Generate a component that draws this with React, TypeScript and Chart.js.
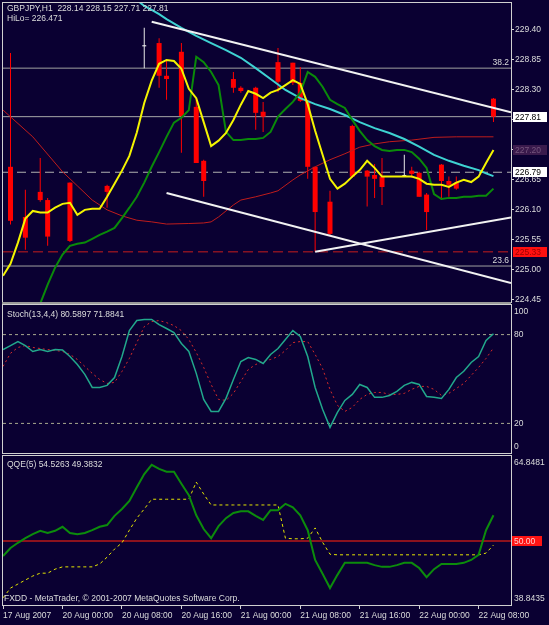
import React, { useEffect, useRef } from "react";
import { Chart, registerables } from "chart.js";

Chart.register(...registerables);

const FONT_FAMILY = "'Liberation Sans', Arial, sans-serif";
const FONT_SIZE = 8.5;
const FONT = `${FONT_SIZE}px ${FONT_FAMILY}`;
const BG = "#0a0032";
const TEXT = "#dcdcdc";
const FRAME = "#d0d0d0";
const AXIS = "#e6e6d4";

// x = hourly bar index, 0 = 20 Aug 2007 00:00
const X_MIN = -8.01;
const X_MAX = 60.36;

const timeTicks = [-8, 0, 8, 16, 24, 32, 40, 48, 56];
const timeLabels = ["17 Aug 2007", "20 Aug 00:00", "20 Aug 08:00", "20 Aug 16:00", "21 Aug 00:00", "21 Aug 08:00", "21 Aug 16:00", "22 Aug 00:00", "22 Aug 08:00"];

const priceTicks = [229.4, 228.85, 228.3, 227.75, 227.2, 226.65, 226.1, 225.55, 225.0, 224.45];
const PRICE_MIN = 224.41;
const PRICE_MAX = 229.895;

// bearish candles
const bearIdx = [-7, -5, -3, -2, 1, 6, 13, 14, 16, 18, 19, 23, 24, 26, 27, 29, 31, 32, 33, 34, 36, 39, 41, 42, 43, 47, 48, 49, 51, 52, 53, 58];
const bearOpen = [226.89, 225.97, 226.43, 226.28, 226.6, 226.54, 229.16, 228.56, 229.0, 227.99, 227.0, 228.5, 228.34, 228.34, 227.9, 228.81, 228.8, 228.43, 228.1, 226.89, 226.25, 227.64, 226.82, 226.74, 226.71, 226.82, 226.78, 226.38, 226.93, 226.63, 226.6, 228.14];
const bearHigh = [228.98, 226.47, 227.05, 226.32, 226.6, 226.56, 229.25, 228.85, 229.16, 228.12, 227.02, 228.63, 228.37, 228.36, 228.08, 229.07, 228.8, 228.72, 228.12, 226.89, 226.45, 227.66, 226.83, 226.94, 227.05, 226.89, 226.8, 226.41, 226.94, 226.71, 226.71, 228.15];
const bearLow = [225.83, 225.37, 226.25, 225.44, 225.51, 226.14, 228.34, 228.12, 227.15, 226.96, 226.34, 228.25, 228.25, 227.57, 227.53, 228.26, 228.39, 228.08, 226.67, 225.33, 225.64, 226.69, 226.16, 226.32, 226.19, 226.69, 226.34, 225.73, 226.28, 226.34, 226.47, 227.71];
const bearClose = [225.9, 225.59, 226.28, 225.61, 225.53, 226.43, 228.56, 228.5, 227.82, 226.96, 226.63, 228.34, 228.28, 227.88, 227.81, 228.45, 228.43, 228.1, 226.89, 226.06, 225.66, 226.71, 226.71, 226.67, 226.52, 226.76, 226.34, 226.06, 226.63, 226.56, 226.49, 227.81];

// visible bullish (doji-like) candles
const bullIdx = [11, 46];
const bullOpen = [229.1, 226.72];
const bullHigh = [229.44, 227.11];
const bullLow = [228.7, 226.71];
const bullClose = [229.12, 226.74];

// yellow fast line, n = -8 .. 58
const yellowStart = -8;
const yellowVals = [224.89, 225.11, 225.5, 225.94, 226.08, 226.05, 226.05, 226.14,
  226.21, 226.23, 226.01, 226.1, 226.12, 226.12, 226.34, 226.58, 226.82, 227.09,
  227.52, 228.06, 228.47, 228.78, 228.85, 228.83, 228.69, 228.32, 228.15, 227.71,
  227.27, 227.37, 227.51, 227.75, 228.03, 228.28, 228.23, 228.15, 228.25, 228.3,
  228.39, 228.48, 228.41, 228.04, 227.55, 227.11, 226.67, 226.49, 226.58, 226.71,
  226.83, 227.0, 226.87, 226.71, 226.71, 226.71, 226.71, 226.71, 226.67, 226.58,
  226.56, 226.56, 226.52, 226.6, 226.65, 226.61, 226.71, 226.96, 227.2];

// green channel line, n = -3 .. 58
const greenStart = -3;
const greenVals = [224.38, 224.73, 225.04,
  225.28, 225.44, 225.48, 225.5, 225.57, 225.64, 225.7, 225.77, 225.95, 226.14,
  226.34, 226.6, 226.89, 227.16, 227.44, 227.7, 227.79, 227.93, 228.91, 228.81,
  228.63, 228.39, 227.53, 227.38, 227.38, 227.4, 227.4, 227.42, 227.53, 227.81,
  227.95, 228.08, 228.25, 228.63, 228.54, 228.36, 228.12, 228.04, 227.97, 227.75,
  227.55, 227.38, 227.27, 227.2, 227.18, 227.2, 227.2, 227.16, 227.04, 226.87,
  226.39, 226.3, 226.32, 226.32, 226.34, 226.34, 226.36, 226.36, 226.49];

// cyan moving average
const cyanIdx = [10, 11, 12, 13, 14, 16, 18, 20, 22, 24, 26, 28, 30, 32, 34, 36, 38, 40, 42, 44, 46, 48, 50, 52, 54, 56, 57, 58];
const cyanVals = [229.95, 229.84, 229.77, 229.69, 229.6, 229.44, 229.29, 229.16, 229.03, 228.89, 228.7, 228.5, 228.3, 228.15, 228.04, 227.95, 227.84, 227.71, 227.6, 227.51, 227.4, 227.26, 227.11, 227.0, 226.91, 226.83, 226.77, 226.72];

// red slow moving average
const redIdx = [-8, -4, 0, 2, 4, 6, 8, 10, 12, 14, 17, 19, 20, 21, 22, 23, 24, 26, 28, 29, 31, 32, 34, 36, 38, 40, 42, 44, 47, 50, 53, 57, 58];
const redVals = [227.93, 227.44, 226.8, 226.54, 226.28, 226.1, 225.99, 225.91, 225.88, 225.84, 225.85, 225.86, 225.88, 225.97, 226.08, 226.19, 226.28, 226.34, 226.41, 226.45, 226.65, 226.74, 226.89, 227.02, 227.13, 227.25, 227.31, 227.35, 227.38, 227.43, 227.44, 227.44, 227.44];

// trend lines (two anchor points each)
const trendUpperIdx = [12, X_MAX];
const trendUpperVal = [229.55, 227.89];
const trendLowerIdx = [14, X_MAX];
const trendLowerVal = [226.41, 224.76];
const trendRiseIdx = [34, X_MAX];
const trendRiseVal = [225.33, 225.96];

// horizontal levels
const fibLevels = [228.7, 225.07];
const fibNames = ["38.2", "23.6"];
const bidPrice = 227.81;
const hiloPrice = 226.79;
const lowPrice = 225.33;
const maLabelPrice = 227.2;

// stochastic, n = -8 .. 58
const stochStart = -8;
const stochK = [69.9, 72.6, 75.3, 72.6, 68.6, 69.9, 68.6, 69.9,
  69.6, 65.2, 59.8, 53.1, 44.3, 44.3, 45.7, 51.0, 65.2, 82.7,
  89.5, 90.2, 90.2, 86.8, 84.1, 81.4, 74.0, 68.6, 53.8, 36.2,
  28.1, 28.1, 36.9, 49.7, 61.8, 64.5, 63.2, 60.5, 66.6, 70.6,
  76.7, 82.7, 78.7, 65.2, 44.3, 29.5, 17.3, 27.4, 35.5, 39.6,
  46.3, 44.3, 37.6, 37.6, 38.9, 41.6, 45.7, 47.7, 46.3, 38.2,
  37.6, 36.9, 43.0, 51.0, 55.2, 61.2, 65.2, 76.0, 80.6];
const stochD = [58.5, 67.4, 71.3, 72.6, 71.3, 70.6, 69.9, 69.3,
  68.6, 66.6, 63.2, 58.5, 53.8, 49.7, 47.0, 47.7, 55.1, 63.9,
  74.6, 85.4, 88.8, 89.5, 88.1, 86.1, 82.7, 76.7, 67.9, 57.8,
  46.3, 36.2, 35.5, 40.3, 48.4, 56.4, 59.8, 61.8, 63.2, 65.2,
  69.3, 74.6, 75.3, 75.3, 66.6, 57.1, 42.9, 32.2, 28.1, 30.8,
  36.2, 39.6, 40.9, 40.9, 39.6, 39.6, 40.3, 43.0, 45.0, 45.0,
  43.0, 38.9, 40.3, 43.6, 47.0, 52.4, 57.8, 63.9, 71.0];
const stochLevels = [80, 20];

// QQE, n = -8 .. 58
const qqeStart = -8;
const qqeMain = [47.4, 48.8, 49.7, 50.5, 51.2, 51.8, 51.4, 51.8,
  52.5, 51.4, 51.2, 51.4, 51.9, 52.5, 52.8, 54.4, 55.6, 57.0,
  59.4, 61.7, 63.3, 62.6, 62.1, 62.1, 60.0, 58.0, 54.5, 52.1,
  50.5, 52.6, 54.0, 54.9, 55.2, 55.2, 54.4, 53.7, 55.4, 55.4,
  56.5, 55.9, 54.5, 51.9, 46.7, 44.3, 41.8, 44.1, 46.2, 46.2,
  46.2, 46.2, 45.8, 45.5, 45.5, 45.8, 46.2, 46.2, 45.3, 43.7,
  45.1, 46.0, 46.0, 46.0, 46.2, 46.7, 47.6, 51.9, 54.5];
const qqeTrail = [40.1, 41.8, 42.5, 43.2, 43.9, 44.4, 44.4, 45.1,
  45.5, 45.5, 45.5, 45.5, 45.5, 46.0, 47.2, 48.6, 49.7, 51.9,
  54.0, 55.6, 57.3, 57.3, 57.3, 57.3, 57.3, 57.3, 60.3, 58.2,
  56.3, 56.3, 56.3, 56.3, 56.3, 56.3, 56.3, 56.3, 56.3, 56.3,
  50.5, 50.4, 50.4, 50.5, 52.3, 49.8, 47.7, 47.6, 47.6, 47.6,
  47.6, 47.6, 47.6, 47.6, 47.6, 47.6, 47.6, 47.6, 47.6, 47.6,
  47.6, 47.6, 47.6, 47.6, 47.6, 47.6, 47.6, 47.9, 49.3];
const qqeLevel = 50;
const QQE_MAX = 64.8481;
const QQE_MIN = 38.8435;

const headerLine1 = "GBPJPY,H1  228.14 228.15 227.71 227.81";
const headerLine2 = "HiLo= 226.471";
const stochTitle = "Stoch(13,4,4) 80.5897 71.8841";
const qqeTitle = "QQE(5) 54.5263 49.3832";
const footerText = "FXDD - MetaTrader, © 2001-2007 MetaQuotes Software Corp.";

// ---------- helpers ----------
const seq = (start: number, vals: number[]) => vals.map((v, i) => ({ x: start + i, y: v }));
const pairs = (idx: number[], vals: number[]) => idx.map((x, i) => ({ x, y: vals[i] }));
const hLine = (v: number) => [{ x: X_MIN, y: v }, { x: X_MAX, y: v }];

function lineDs(data: any[], color: string, width: number, order: number, dash: number[] = []) {
  return {
    type: "line" as const,
    data,
    borderColor: color,
    borderWidth: width,
    borderDash: dash,
    pointRadius: 0,
    pointHoverRadius: 0,
    tension: 0,
    fill: false,
    order,
    clip: 0,
  };
}

function barDs(data: any[], color: string, thickness: number, order: number) {
  return {
    type: "bar" as const,
    data,
    backgroundColor: color,
    borderWidth: 0,
    barThickness: thickness,
    grouped: false,
    inflateAmount: 0,
    minBarLength: 1,
    order,
  };
}

const xHidden = {
  type: "linear" as const,
  min: X_MIN,
  max: X_MAX,
  offset: false,
  display: false,
};

// fixed-width right axis without extra vertical label padding
const fitRight = (s: any) => {
  s.width = 38;
  s.paddingTop = 0;
  s.paddingBottom = 0;
};

function drawFrame(ctx: CanvasRenderingContext2D, a: any) {
  ctx.strokeStyle = FRAME;
  ctx.lineWidth = 1;
  ctx.strokeRect(a.left - 0.5, a.top - 0.5, a.right - a.left + 1, a.bottom - a.top + 1);
}

function drawBox(ctx: CanvasRenderingContext2D, x: number, yc: number, w: number, text: string, bg: string, fg: string) {
  const top = Math.round(yc) - 5;
  ctx.fillStyle = bg;
  ctx.fillRect(x, top, w, 10);
  ctx.fillStyle = fg;
  ctx.textAlign = "left";
  ctx.textBaseline = "middle";
  ctx.fillText(text, x + 2, top + 5.5);
}

const commonOpts = {
  responsive: false,
  animation: false as const,
  devicePixelRatio: 1,
  events: [] as any[],
  plugins: { legend: { display: false }, tooltip: { enabled: false } },
};

// ---------- main price chart ----------
function mainConfig(): any {
  const deco = {
    id: "mainDeco",
    afterDraw(chart: any) {
      const { ctx, chartArea: a, scales } = chart;
      const y = scales.y;
      ctx.save();
      drawFrame(ctx, a);
      ctx.fillStyle = "#9a9a9a";
      ctx.fillRect(a.left - 1, a.bottom, a.right - a.left + 1, 3);
      ctx.font = FONT;
      ctx.fillStyle = TEXT;
      ctx.textBaseline = "middle";
      ctx.textAlign = "left";
      ctx.fillText(headerLine1, 7, 9);
      ctx.fillText(headerLine2, 7, 19);
      ctx.textAlign = "right";
      ctx.textBaseline = "bottom";
      fibLevels.forEach((v, i) => {
        ctx.fillText(fibNames[i], a.right - 2, y.getPixelForValue(v) - 1);
      });
      drawBox(ctx, a.right + 2, y.getPixelForValue(bidPrice), 34, bidPrice.toFixed(2), "#ffffff", "#000000");
      drawBox(ctx, a.right + 2, y.getPixelForValue(maLabelPrice), 34, maLabelPrice.toFixed(2), "#3a1a4c", "#76567e");
      drawBox(ctx, a.right + 2, y.getPixelForValue(hiloPrice), 34, hiloPrice.toFixed(2), "#ffffff", "#000000");
      drawBox(ctx, a.right + 2, y.getPixelForValue(lowPrice), 34, lowPrice.toFixed(2), "#ff1010", "#9a0000");
      ctx.restore();
    },
  };

  const bearWicks = bearIdx.map((n, i) => ({ x: n, y: [bearLow[i], bearHigh[i]] }));
  const bearBodies = bearIdx.map((n, i) => ({ x: n, y: [bearClose[i], bearOpen[i]] }));
  const bullWicks = bullIdx.map((n, i) => ({ x: n, y: [bullLow[i], bullHigh[i]] }));
  const bullBodies = bullIdx.map((n, i) => ({ x: n, y: [bullOpen[i], bullClose[i]] }));

  return {
    type: "bar",
    data: {
      datasets: [
        lineDs(pairs(trendUpperIdx, trendUpperVal), "#f2f2f2", 2, 0),
        lineDs(pairs(trendLowerIdx, trendLowerVal), "#f2f2f2", 2, 0),
        lineDs(pairs(trendRiseIdx, trendRiseVal), "#f2f2f2", 2, 0),
        lineDs(seq(yellowStart, yellowVals), "#f4f400", 2, 1),
        lineDs(seq(greenStart, greenVals), "#0a8a0a", 2, 2),
        lineDs(pairs(cyanIdx, cyanVals), "#3ed2d2", 2, 3),
        lineDs(pairs(redIdx, redVals), "#c01c1c", 1, 4),
        barDs(bearBodies, "#ff0000", 5, 5),
        barDs(bullBodies, "#f0f0f0", 4, 5),
        barDs(bearWicks, "#ff0000", 1, 6),
        barDs(bullWicks, "#e8e8e8", 1, 6),
        lineDs(hLine(fibLevels[0]), "#a0a0a0", 1, 7),
        lineDs(hLine(fibLevels[1]), "#a0a0a0", 1, 7),
        lineDs(hLine(bidPrice), "#a8a8a8", 1, 7),
        lineDs(hLine(hiloPrice), "#b0b0b0", 1, 7, [9, 5]),
        lineDs(hLine(lowPrice), "#c81c1c", 1, 7, [10, 5]),
      ],
    },
    options: {
      ...commonOpts,
      layout: { padding: { left: 3, top: 3, right: 0, bottom: 4 } },
      scales: {
        x: xHidden,
        y: {
          type: "linear",
          position: "right",
          min: PRICE_MIN,
          max: PRICE_MAX,
          afterFit: fitRight,
          afterBuildTicks: (s: any) => { s.ticks = priceTicks.map((v) => ({ value: v })); },
          ticks: {
            autoSkip: false,
            padding: 1,
            color: TEXT,
            font: { family: FONT_FAMILY, size: FONT_SIZE },
            callback: (v: any) => Number(v).toFixed(2),
          },
          grid: { drawOnChartArea: false, drawTicks: true, tickLength: 3, color: TEXT },
          border: { display: true, color: AXIS, width: 1 },
        },
      },
    },
    plugins: [deco],
  };
}

// ---------- stochastic chart ----------
function stochConfig(): any {
  const deco = {
    id: "stochDeco",
    afterDraw(chart: any) {
      const { ctx, chartArea: a, scales } = chart;
      const y = scales.y;
      ctx.save();
      drawFrame(ctx, a);
      ctx.font = FONT;
      ctx.fillStyle = TEXT;
      ctx.textBaseline = "middle";
      ctx.textAlign = "left";
      ctx.fillText(stochTitle, 7, a.top + 10);
      ctx.fillText(String(y.max), a.right + 3, y.getPixelForValue(y.max) + 7);
      ctx.fillText(String(y.min), a.right + 3, y.getPixelForValue(y.min) - 6);
      ctx.restore();
    },
  };
  return {
    type: "line",
    data: {
      datasets: [
        lineDs(seq(stochStart, stochK), "#22a88c", 1.5, 1),
        lineDs(seq(stochStart, stochD), "#d82a2a", 1, 2, [2, 3]),
        lineDs(hLine(stochLevels[0]), "#a8a88e", 1, 3, [3, 3]),
        lineDs(hLine(stochLevels[1]), "#a8a88e", 1, 3, [3, 3]),
      ],
    },
    options: {
      ...commonOpts,
      layout: { padding: { left: 3, top: 2, right: 0, bottom: 2 } },
      scales: {
        x: xHidden,
        y: {
          type: "linear",
          position: "right",
          min: 0,
          max: 100,
          afterFit: fitRight,
          afterBuildTicks: (s: any) => { s.ticks = stochLevels.map((v) => ({ value: v })); },
          ticks: {
            autoSkip: false,
            padding: 3,
            color: TEXT,
            font: { family: FONT_FAMILY, size: FONT_SIZE },
          },
          grid: { drawOnChartArea: false, drawTicks: false },
          border: { display: true, color: AXIS, width: 1 },
        },
      },
    },
    plugins: [deco],
  };
}

// ---------- QQE chart ----------
function qqeConfig(): any {
  const deco = {
    id: "qqeDeco",
    afterDraw(chart: any) {
      const { ctx, chartArea: a, scales } = chart;
      const y = scales.y;
      ctx.save();
      drawFrame(ctx, a);
      ctx.font = FONT;
      ctx.fillStyle = TEXT;
      ctx.textBaseline = "middle";
      ctx.textAlign = "left";
      ctx.fillText(qqeTitle, 7, a.top + 9);
      ctx.fillText(footerText, 4, a.bottom - 6);
      ctx.fillText(y.max.toFixed(4), a.right + 3, y.getPixelForValue(y.max) + 7);
      ctx.fillText(y.min.toFixed(4), a.right + 3, y.getPixelForValue(y.min) - 6);
      drawBox(ctx, a.right + 1, y.getPixelForValue(qqeLevel), 30, qqeLevel.toFixed(2), "#ff1414", "#ffd0d0");
      ctx.restore();
    },
  };
  return {
    type: "line",
    data: {
      datasets: [
        lineDs(seq(qqeStart, qqeMain), "#0c8c0c", 2, 1),
        lineDs(seq(qqeStart, qqeTrail), "#e4e400", 1, 2, [3, 3]),
        lineDs(hLine(qqeLevel), "#b81818", 1.5, 3),
      ],
    },
    options: {
      ...commonOpts,
      layout: { padding: { left: 3, top: 2, right: 0, bottom: 0 } },
      scales: {
        x: {
          type: "linear",
          min: X_MIN,
          max: X_MAX,
          offset: false,
          position: "bottom",
          afterFit: (s: any) => { s.height = 20; s.paddingLeft = 0; },
          afterBuildTicks: (s: any) => { s.ticks = timeTicks.map((v) => ({ value: v })); },
          ticks: {
            align: "start",
            autoSkip: false,
            maxRotation: 0,
            minRotation: 0,
            padding: 2,
            color: TEXT,
            font: { family: FONT_FAMILY, size: FONT_SIZE },
            callback: (_v: any, i: number) => timeLabels[i],
          },
          grid: { drawOnChartArea: false, drawTicks: true, tickLength: 4, color: "#d0d0d0" },
          border: { display: true, color: FRAME, width: 1 },
        },
        y: {
          type: "linear",
          position: "right",
          min: QQE_MIN,
          max: QQE_MAX,
          afterFit: fitRight,
          ticks: { display: false },
          grid: { drawOnChartArea: false, drawTicks: false },
          border: { display: true, color: AXIS, width: 1 },
        },
      },
    },
    plugins: [deco],
  };
}

export default function App() {
  const mainRef = useRef<HTMLCanvasElement>(null);
  const stochRef = useRef<HTMLCanvasElement>(null);
  const qqeRef = useRef<HTMLCanvasElement>(null);

  useEffect(() => {
    const charts = [
      new Chart(mainRef.current as HTMLCanvasElement, mainConfig()),
      new Chart(stochRef.current as HTMLCanvasElement, stochConfig()),
      new Chart(qqeRef.current as HTMLCanvasElement, qqeConfig()),
    ];
    return () => charts.forEach((c) => c.destroy());
  }, []);

  return (
    <div style={{ position: "absolute", left: 0, top: 0, width: 549, height: 625, background: BG, overflow: "hidden" }}>
      <canvas ref={mainRef} width={549} height={306} style={{ position: "absolute", left: 0, top: 0, width: 549, height: 306 }} />
      <canvas ref={stochRef} width={549} height={152} style={{ position: "absolute", left: 0, top: 303, width: 549, height: 152 }} />
      <canvas ref={qqeRef} width={549} height={171} style={{ position: "absolute", left: 0, top: 454, width: 549, height: 171 }} />
    </div>
  );
}
